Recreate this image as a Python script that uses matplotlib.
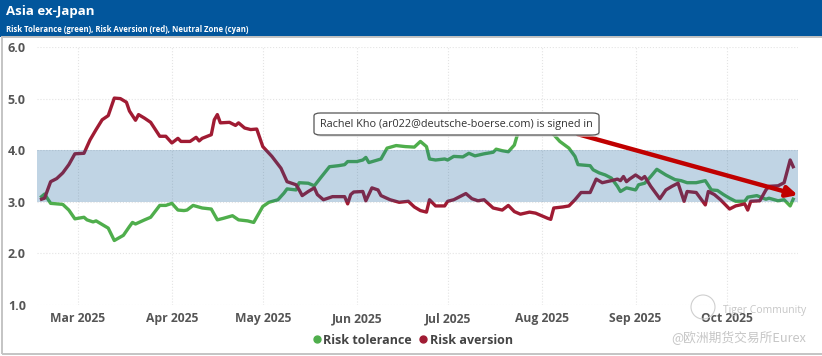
import matplotlib
matplotlib.use("Agg")
import matplotlib.pyplot as plt
import matplotlib.dates as mdates
from matplotlib.patches import Rectangle, FancyBboxPatch, Ellipse
import pandas as pd

plt.rcParams['font.family'] = ['Open Sans', 'DejaVu Sans']

# Risk aversion (red)
aversion_dates = [
    "2025-02-17", "2025-02-18", "2025-02-20", "2025-02-22", "2025-02-24", "2025-02-26", "2025-02-28",
    "2025-03-03", "2025-03-05", "2025-03-07", "2025-03-09", "2025-03-11", "2025-03-13", "2025-03-15",
    "2025-03-17", "2025-03-18", "2025-03-20", "2025-03-21", "2025-03-23", "2025-03-25", "2025-03-28",
    "2025-03-30", "2025-04-01", "2025-04-03", "2025-04-04", "2025-04-07", "2025-04-09", "2025-04-10",
    "2025-04-11", "2025-04-14", "2025-04-15", "2025-04-16", "2025-04-17", "2025-04-20", "2025-04-22",
    "2025-04-23", "2025-04-25", "2025-04-27", "2025-04-29", "2025-05-01", "2025-05-04", "2025-05-07",
    "2025-05-09", "2025-05-12", "2025-05-13", "2025-05-14", "2025-05-16", "2025-05-18", "2025-05-19",
    "2025-05-21", "2025-05-24", "2025-05-28", "2025-05-29", "2025-05-30", "2025-05-31", "2025-06-03",
    "2025-06-04", "2025-06-06", "2025-06-08", "2025-06-09", "2025-06-12", "2025-06-15", "2025-06-18",
    "2025-06-20", "2025-06-22", "2025-06-24", "2025-06-25", "2025-06-27", "2025-06-30", "2025-07-01",
    "2025-07-03", "2025-07-07", "2025-07-09", "2025-07-11", "2025-07-13", "2025-07-16", "2025-07-19",
    "2025-07-21", "2025-07-23", "2025-07-25", "2025-07-28", "2025-07-30", "2025-08-03", "2025-08-04",
    "2025-08-05", "2025-08-08", "2025-08-10", "2025-08-12", "2025-08-14", "2025-08-17", "2025-08-19",
    "2025-08-21", "2025-08-24", "2025-08-26", "2025-08-27", "2025-08-28", "2025-08-29", "2025-08-30",
    "2025-09-01", "2025-09-03", "2025-09-04", "2025-09-06", "2025-09-09", "2025-09-11", "2025-09-13",
    "2025-09-15", "2025-09-17", "2025-09-18", "2025-09-21", "2025-09-24", "2025-09-25", "2025-09-27",
    "2025-09-29", "2025-10-02", "2025-10-04", "2025-10-07", "2025-10-08", "2025-10-09", "2025-10-12",
    "2025-10-14", "2025-10-15", "2025-10-18", "2025-10-20", "2025-10-21", "2025-10-22", "2025-10-23",
]
aversion = [
    3.05, 3.07, 3.39, 3.45, 3.56, 3.72, 3.93,
    3.94, 4.20, 4.40, 4.59, 4.67, 5.01, 5.00,
    4.93, 4.76, 4.58, 4.69, 4.62, 4.54, 4.27,
    4.27, 4.14, 4.23, 4.17, 4.17, 4.25, 4.18,
    4.23, 4.30, 4.59, 4.69, 4.53, 4.54, 4.48,
    4.53, 4.43, 4.40, 4.41, 4.07, 3.88, 3.65,
    3.39, 3.33, 3.23, 3.12, 3.20, 3.27, 3.14,
    3.04, 3.10, 3.10, 2.96, 3.14, 3.19, 3.20,
    3.02, 3.27, 3.23, 3.12, 3.04, 2.99, 3.01,
    2.90, 2.83, 2.80, 3.04, 2.92, 2.92, 3.01,
    3.04, 3.16, 3.06, 3.02, 3.04, 2.88, 2.84,
    2.93, 2.81, 2.76, 2.80, 2.78, 2.68, 2.66,
    2.88, 2.90, 2.92, 3.04, 3.18, 3.18, 3.44,
    3.37, 3.41, 3.44, 3.41, 3.49, 3.39, 3.44,
    3.52, 3.44, 3.49, 3.30, 3.06, 3.23, 3.30,
    3.36, 3.01, 3.20, 3.18, 2.94, 3.20, 3.14,
    3.04, 2.86, 2.92, 2.96, 2.84, 3.01, 3.02,
    3.23, 3.30, 3.31, 3.37, 3.59, 3.81, 3.68,
]

# Risk tolerance (green)
tolerance_dates = [
    "2025-02-17", "2025-02-18", "2025-02-20", "2025-02-24", "2025-02-26", "2025-02-28", "2025-03-03",
    "2025-03-04", "2025-03-06", "2025-03-07", "2025-03-11", "2025-03-13", "2025-03-16", "2025-03-18",
    "2025-03-19", "2025-03-20", "2025-03-23", "2025-03-25", "2025-03-28", "2025-03-30", "2025-04-01",
    "2025-04-03", "2025-04-05", "2025-04-06", "2025-04-08", "2025-04-11", "2025-04-14", "2025-04-16",
    "2025-04-18", "2025-04-21", "2025-04-23", "2025-04-26", "2025-04-28", "2025-05-01", "2025-05-03",
    "2025-05-06", "2025-05-08", "2025-05-09", "2025-05-12", "2025-05-13", "2025-05-16", "2025-05-18",
    "2025-05-20", "2025-05-23", "2025-05-26", "2025-05-28", "2025-05-29", "2025-06-01", "2025-06-03",
    "2025-06-04", "2025-06-05", "2025-06-09", "2025-06-11", "2025-06-14", "2025-06-17", "2025-06-20",
    "2025-06-22", "2025-06-24", "2025-06-25", "2025-06-27", "2025-06-30", "2025-07-01", "2025-07-03",
    "2025-07-06", "2025-07-08", "2025-07-10", "2025-07-13", "2025-07-16", "2025-07-17", "2025-07-19",
    "2025-07-21", "2025-07-23", "2025-07-24", "2025-07-26", "2025-07-28", "2025-08-01", "2025-08-03",
    "2025-08-05", "2025-08-07", "2025-08-10", "2025-08-12", "2025-08-13", "2025-08-17", "2025-08-18",
    "2025-08-20", "2025-08-22", "2025-08-24", "2025-08-26", "2025-08-27", "2025-08-29", "2025-09-01",
    "2025-09-02", "2025-09-04", "2025-09-06", "2025-09-08", "2025-09-11", "2025-09-14", "2025-09-16",
    "2025-09-18", "2025-09-21", "2025-09-24", "2025-09-26", "2025-09-28", "2025-09-30", "2025-10-02",
    "2025-10-04", "2025-10-07", "2025-10-08", "2025-10-11", "2025-10-14", "2025-10-15", "2025-10-18",
    "2025-10-20", "2025-10-22", "2025-10-23",
]
tolerance = [
    3.10, 3.15, 2.97, 2.95, 2.84, 2.67, 2.70,
    2.65, 2.61, 2.63, 2.49, 2.25, 2.35, 2.52,
    2.60, 2.57, 2.65, 2.70, 2.93, 2.93, 2.97,
    2.84, 2.83, 2.84, 2.93, 2.88, 2.86, 2.65,
    2.68, 2.73, 2.65, 2.63, 2.60, 2.91, 2.99,
    3.04, 3.17, 3.25, 3.23, 3.37, 3.36, 3.31,
    3.46, 3.68, 3.70, 3.72, 3.78, 3.78, 3.81,
    3.86, 3.76, 3.83, 4.04, 4.09, 4.07, 4.06,
    4.17, 4.07, 3.83, 3.81, 3.83, 3.81, 3.88,
    3.87, 3.94, 3.89, 3.93, 3.96, 4.02, 3.99,
    3.97, 4.10, 4.30, 4.49, 4.60, 4.55, 4.45,
    4.30, 4.17, 4.04, 3.88, 3.72, 3.70, 3.62,
    3.56, 3.52, 3.46, 3.30, 3.20, 3.27, 3.23,
    3.33, 3.36, 3.49, 3.63, 3.52, 3.43, 3.41,
    3.37, 3.37, 3.41, 3.23, 3.22, 3.14, 3.07,
    3.01, 3.01, 3.09, 3.12, 3.05, 3.07, 3.02,
    3.04, 2.92, 3.05,
]

neutral_low, neutral_high = 3.0, 4.0
month_ticks = ["2025-03-01", "2025-04-01", "2025-05-01", "2025-06-01",
               "2025-07-01", "2025-08-01", "2025-09-01", "2025-10-01"]

green = '#4fae4c'
red = '#a01b33'
grey_txt = '#555555'

W, H = 822, 356
fig = plt.figure(figsize=(W / 100, H / 100), dpi=100)

# header bar
fig.patches.append(Rectangle((0, 1 - 37 / H), 1, 37 / H, transform=fig.transFigure,
                             facecolor='#02569c', edgecolor='none', zorder=0))
fig.text(6 / W, 1 - 12 / H, 'Asia ex-Japan', color='white', fontsize=9.5,
         fontweight='bold', va='center', ha='left')
fig.text(6 / W, 1 - 29 / H, 'Risk Tolerance (green), Risk Aversion (red), Neutral Zone (cyan)',
         color='white', fontsize=5.6, fontweight='bold', va='center', ha='left')
# outer frame
fig.patches.append(Rectangle((2 / W, 2 / H), 1.0, 1 - 39 / H, transform=fig.transFigure,
                             facecolor='none', edgecolor='#c4c4c4', lw=1.4, zorder=0))

ax = fig.add_axes([37 / W, 51 / H, 761 / W, 258 / H])

d_av = pd.to_datetime(aversion_dates)
d_tol = pd.to_datetime(tolerance_dates)
ax.plot(d_tol, tolerance, color=green, lw=2.4, solid_joinstyle='round', zorder=3)
ax.plot(d_av, aversion, color=red, lw=2.4, solid_joinstyle='round', zorder=3)
# neutral zone drawn over the lines, translucent
ax.axhspan(neutral_low, neutral_high, color='#0f5b98', alpha=0.26, lw=0, zorder=4)

ax.set_ylim(1, 6)
ax.set_xlim(pd.Timestamp("2025-02-15 12:00"), pd.Timestamp("2025-10-24 14:00"))
ax.set_yticks([1, 2, 3, 4, 5, 6])
ax.set_yticklabels(['1.0', '2.0', '3.0', '4.0', '5.0', '6.0'])
ax.set_xticks(pd.to_datetime(month_ticks))
ax.xaxis.set_major_formatter(mdates.DateFormatter('%b %Y'))
ax.tick_params(length=0, labelsize=8.7, labelcolor=grey_txt)
ax.tick_params(axis='y', pad=8, labelsize=9)
ax.tick_params(axis='x', pad=5)
for lab in ax.get_xticklabels() + ax.get_yticklabels():
    lab.set_fontweight('bold')
ax.grid(True, color='#e4e4e4', lw=0.8, ls=':', zorder=0)
for s in ax.spines.values():
    s.set_visible(False)

# red arrow annotation
ax.annotate('', xy=(pd.Timestamp("2025-10-24 12:00"), 3.13),
            xytext=(pd.Timestamp("2025-08-13"), 4.31),
            arrowprops=dict(arrowstyle='-|>', color='#c00000', lw=3.2, mutation_scale=16,
                            shrinkA=0, shrinkB=0), zorder=6)

# signed-in tooltip
fig.patches.append(FancyBboxPatch((316 / W, 1 - 137 / H), 284 / W, 22 / H,
                                  boxstyle='round,pad=0,rounding_size=0.008',
                                  transform=fig.transFigure, facecolor='#d8d8d8',
                                  edgecolor='none', zorder=7, alpha=0.6))
fig.patches.append(FancyBboxPatch((314 / W, 1 - 135 / H), 285 / W, 22 / H,
                                  boxstyle='round,pad=0,rounding_size=0.008',
                                  transform=fig.transFigure, facecolor='white',
                                  edgecolor='#555555', lw=0.9, zorder=8))
fig.text(456.5 / W, 1 - 124 / H, 'Rachel Kho (ar022@deutsche-boerse.com) is signed in',
         color='#333333', fontsize=7.8, ha='center', va='center', zorder=9)

# legend
ax.plot([], [], 'o', color=green, ms=5, label='Risk tolerance')
ax.plot([], [], 'o', color=red, ms=5, label='Risk aversion')
fig.legend(*ax.get_legend_handles_labels(), loc='center', bbox_to_anchor=(413 / W, 1 - 340 / H),
           ncol=2, frameon=False, handlelength=0.6, handletextpad=0.2, columnspacing=0.6,
           prop={'weight': 'bold', 'size': 9}, labelcolor='#444444')

# watermark
fig.patches.append(Ellipse((703 / W, 1 - 307 / H), 24 / W, 24 / H, transform=fig.transFigure,
                           facecolor='none', edgecolor='#cfcfcf', lw=0.8, zorder=1))
fig.text(806 / W, 1 - 310 / H, 'Tiger Community', color='#c6c6c6', fontsize=7.5,
         ha='right', va='center')
fig.text(806 / W, 1 - 338 / H, '@欧洲期货交易所Eurex', color='#c6c6c6', fontsize=9.2,
         ha='right', va='center', family=['Noto Sans CJK SC', 'DejaVu Sans'])

fig.savefig('out.png', dpi=100)
